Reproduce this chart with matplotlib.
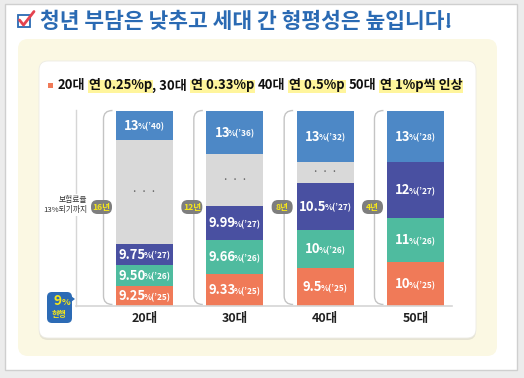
import matplotlib
matplotlib.use('Agg')
import matplotlib.pyplot as plt
from matplotlib.patches import FancyBboxPatch, Rectangle, PathPatch
from matplotlib.path import Path
from matplotlib.transforms import offset_copy

plt.rcParams['font.family'] = ['Noto Sans CJK KR', 'DejaVu Sans']

# ---------------- data ----------------
categories = ['20대', '30대', '40대', '50대']
rate_2025 = ['9.25', '9.33', '9.5', '10']
rate_2026 = ['9.50', '9.66', '10', '11']
rate_2027 = ['9.75', '9.99', '10.5', '12']
rate_final = ['13', '13', '13', '13']
final_year = ['40', '36', '32', '28']
years_to_13 = ['16년', '12년', '8년', '4년']

title = '청년 부담은 낮추고 세대 간 형평성은 높입니다!'
sub_parts = [('20대', False, 0), ('연 0.25%p', True, 1), (', 30대', False, 0),
             ('연 0.33%p', True, 1), ('40대', False, 1), ('연 0.5%p', True, 1),
             ('50대', False, 1), ('연 1%p씩 인상', True, 1)]

# visual segment lengths of the infographic (not proportional to rates)
seg_2025 = [20, 32, 38, 44]
seg_2026 = [21, 34, 38, 44]
seg_2027 = [21, 34, 47, 56]
seg_gap = [104, 52, 21, 0]
seg_final = [29, 43, 51, 51]

# ---------------- style ----------------
C_ORANGE = '#f07a58'
C_TEAL = '#4fbb9f'
C_PURPLE = '#4950a1'
C_GRAY = '#d9d9d9'
C_BLUE = '#4d88c6'
C_TITLE = '#2a6ab3'

W, H = 524, 378
fig = plt.figure(figsize=(W / 100, H / 100), dpi=100)
fig.patch.set_facecolor('#ececec')
bg = fig.add_axes([0, 0, 1, 1])
bg.set_xlim(0, W)
bg.set_ylim(H, 0)
bg.axis('off')
renderer = fig.canvas.get_renderer()

# panels
bg.add_patch(Rectangle((5, 4), 512, 366, facecolor='white', edgecolor='#cfcfcf', lw=1))
bg.add_patch(FancyBboxPatch((18, 39), 479, 317, boxstyle='round,pad=0,rounding_size=10',
                            facecolor='#fbf8e3', edgecolor='none'))
bg.add_patch(FancyBboxPatch((39, 63), 437, 277, boxstyle='round,pad=0,rounding_size=9',
                            facecolor='#e6e3d3', edgecolor='none'))
bg.add_patch(FancyBboxPatch((39, 61), 437, 277, boxstyle='round,pad=0,rounding_size=9',
                            facecolor='white', edgecolor='#ecebe4', lw=0.6))

# title icon
bg.add_patch(Rectangle((18, 15), 12, 12, facecolor='none', edgecolor=C_TITLE, lw=1.3))
bg.plot([19.5, 23.5, 34], [20, 25, 11.5], color='#e5434f', lw=2.0, solid_capstyle='round')


def fit_text(x, y, s, target_w, **kw):
    t = bg.text(x, y, s, fontsize=10, **kw)
    w = t.get_window_extent(renderer).width
    t.set_fontsize(10 * target_w / w)
    return t

fit_text(40, 21, title, 411, color=C_TITLE, weight='black', va='center', ha='left')

# subtitle
bg.add_patch(Rectangle((48, 83), 5, 5, facecolor=C_ORANGE, edgecolor='none'))
fs_sub = 8.0
def layout_sub(fs, draw):
    x = 58
    sp = fs * 100 / 72 * 0.28
    for s, hl, spb in sub_parts:
        x += sp * spb
        t = bg.text(x, 85.5, s, fontsize=fs, weight='bold', color='#111111',
                    va='center', ha='left', zorder=3)
        w = t.get_window_extent(renderer).width
        if draw:
            if hl:
                bg.add_patch(Rectangle((x - 1, 80), w + 2, 12.5, facecolor='#fff59c',
                                       edgecolor='none', zorder=2))
        else:
            t.remove()
        x += w
    return x - 58
tot = layout_sub(fs_sub, False)
fs_sub = fs_sub * 403 / tot
layout_sub(fs_sub, True)

# ---------------- bar axes ----------------
x_left, x_right, y_top, y_bot = 76, 452, 110, 305.5
ax = fig.add_axes([x_left / W, (H - y_bot) / H, (x_right - x_left) / W, (y_bot - y_top) / H])
ax.set_facecolor('none')
unit = 90.33
a = -(144.5 - x_left) / unit
b = a + (x_right - x_left) / unit
ax.set_xlim(a, b)
ax.set_ylim(0, 195.5)
bw = 57 / unit
xs = list(range(len(categories)))

layers = [(seg_2025, C_ORANGE), (seg_2026, C_TEAL), (seg_2027, C_PURPLE),
          (seg_gap, C_GRAY), (seg_final, C_BLUE)]
bottoms = [0] * len(xs)
mids = []
for vals, col in layers:
    ax.bar(xs, vals, bottom=bottoms, width=bw, color=col, linewidth=0)
    mids.append([bt + v / 2 for bt, v in zip(bottoms, vals)])
    bottoms = [bt + v for bt, v in zip(bottoms, vals)]

for sp in ['top', 'right', 'left']:
    ax.spines[sp].set_visible(False)
ax.spines['bottom'].set_color('#d6d6d6')
ax.spines['bottom'].set_linewidth(1.2)
ax.set_yticks([])
ax.set_xticks(xs)
ax.set_xticklabels(categories, fontsize=9, weight='bold', color='#222222')
ax.tick_params(axis='x', length=0, pad=5)


def two_part(i, y, main, suffix, fs1=9.4, fs2=6.0):
    t1 = ax.text(i, y, main, fontsize=fs1, weight='bold', color='white', va='baseline', ha='left')
    t2 = ax.text(i, y, suffix, fontsize=fs2, weight='bold', color='white', va='baseline', ha='left')
    w1 = t1.get_window_extent(renderer).width
    w2 = t2.get_window_extent(renderer).width
    cap = fs1 * 100 / 72 * 0.72
    gap = -2.0
    x0 = -(w1 + w2 + gap) / 2
    t1.set_transform(offset_copy(ax.transData, fig=fig, x=x0, y=-cap / 2, units='dots'))
    t2.set_transform(offset_copy(ax.transData, fig=fig, x=x0 + w1 + gap, y=-cap / 2, units='dots'))

labels_by_layer = [(rate_2025, ['25'] * 4), (rate_2026, ['26'] * 4), (rate_2027, ['27'] * 4)]
for li, (rates, yrs) in enumerate(labels_by_layer):
    for i in xs:
        two_part(i, mids[li][i], rates[i], '%(\u2019' + yrs[i] + ')')
for i in xs:
    two_part(i, mids[4][i], rate_final[i], '%(\u2019' + final_year[i] + ')')
    if seg_gap[i] > 0:
        ax.text(i, mids[3][i], '·  ·  ·', fontsize=6.5, color='#666666', ha='center', va='center',
                weight='bold')

# ---------------- decorations in pixel coords ----------------
bg.plot([76, 76], [110, 306], color='#d6d6d6', lw=1.0, zorder=1)
bg.text(87, 205, '보험료율\n13%되기까지', fontsize=5.6, color='#333333', ha='right', va='center',
        multialignment='right', linespacing=1.45, zorder=3,
        bbox=dict(facecolor='white', edgecolor='none', pad=1.0))

for i in xs:
    left_px = ax.transData.transform((i - bw / 2, 0))[0]
    bx = left_px - 12.5
    verts = [(bx + 9, 110.5), (bx, 110.5), (bx, 119), (bx, 296), (bx, 304.5), (bx + 9, 304.5)]
    codes = [Path.MOVETO, Path.CURVE3, Path.CURVE3, Path.LINETO, Path.CURVE3, Path.CURVE3]
    bg.add_patch(PathPatch(Path(verts, codes), facecolor='none', edgecolor='#c4c4c4', lw=1.0, zorder=2))
    cx = bx - 2
    bg.add_patch(FancyBboxPatch((cx - 10.5, 200), 21, 14, boxstyle='round,pad=0,rounding_size=6.5',
                                facecolor='#7e7e7e', edgecolor='none', zorder=3))
    bg.text(cx, 207.3, years_to_13[i], fontsize=6.2, weight='bold', color='#f5e61a',
            ha='center', va='center', zorder=4)

# 9% badge
bg.add_patch(FancyBboxPatch((47, 292), 25, 31, boxstyle='round,pad=0,rounding_size=5',
                            facecolor='#2c6bb5', edgecolor='none', zorder=3))
bg.add_patch(plt.Polygon([[71, 296], [75, 299], [71, 302]], closed=True,
                         facecolor='#2c6bb5', edgecolor='none', zorder=3))
bg.text(57.5, 305, '9', fontsize=10, weight='bold', color='#f5e61a', ha='center',
        va='baseline', zorder=4)
bg.text(61.5, 305, '%', fontsize=6.5, weight='bold', color='#f5e61a', ha='left', va='baseline', zorder=4)
bg.text(59.5, 315, '현행', fontsize=5.8, weight='bold', color='#f5e61a', ha='center',
        va='center', zorder=4)

fig.savefig('out.png', dpi=100, facecolor=fig.get_facecolor())
